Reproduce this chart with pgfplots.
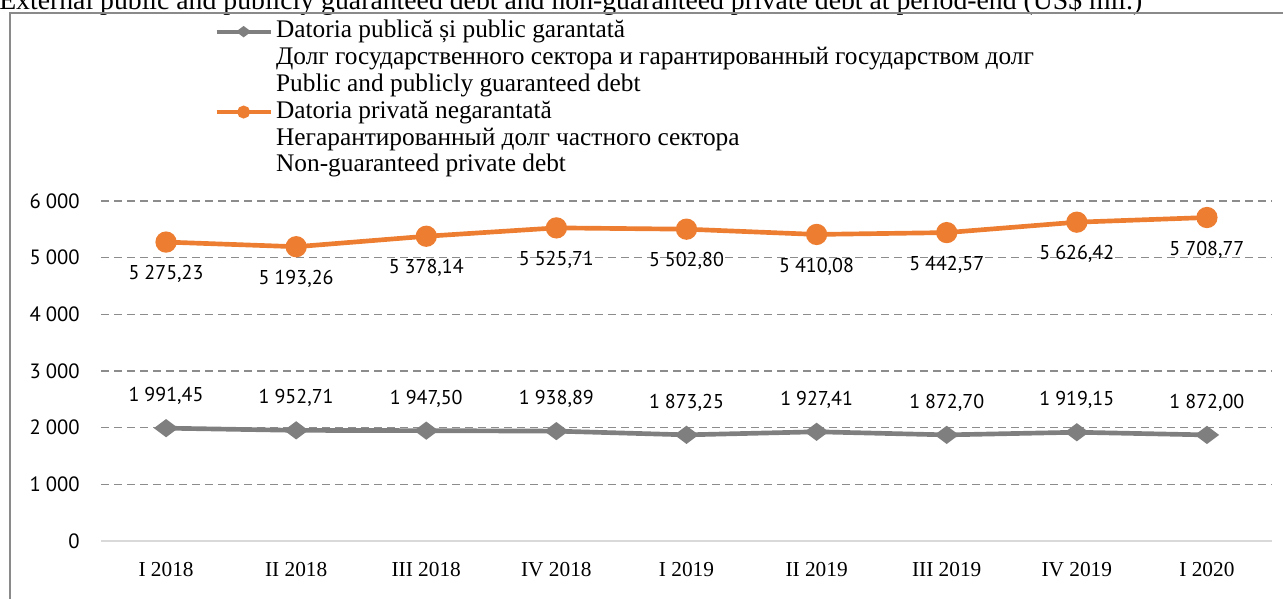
\documentclass[border=0pt]{standalone}
\usepackage{pgfplots}
\pgfplotsset{compat=1.18}
\usepackage{fontspec}
\setmainfont{Liberation Serif}
\newfontfamily\lab{PT Sans}
\definecolor{myorange}{HTML}{ED7D31}
\definecolor{mygray}{HTML}{7F7F7F}
\definecolor{gridgray}{HTML}{8C8C8C}
\definecolor{zerogray}{HTML}{D9D9D9}
\definecolor{framegray}{HTML}{8A8A8A}

\pgfplotstableread{
x y
0 1991.45
1 1952.71
2 1947.50
3 1938.89
4 1873.25
5 1927.41
6 1872.70
7 1919.15
8 1872.00
}\publicdebt
\pgfplotstableread{
x y
0 5275.23
1 5193.26
2 5378.14
3 5525.71
4 5502.80
5 5410.08
6 5442.57
7 5626.42
8 5708.77
}\privatedebt

\begin{document}
\begin{tikzpicture}
\useasboundingbox (0,0) rectangle (962.25pt,-449.25pt);
\clip (0,0) rectangle (962.25pt,-449.25pt);
\node[anchor=base west, inner sep=0pt, font=\fontsize{20.8}{24}\selectfont] at (-0.75pt,-7pt) {External public and publicly guaranteed debt and non-guaranteed private debt at period-end (US\$ mil.)};
\draw[framegray, line width=1.1pt] (7.5pt,-9.75pt) rectangle (980pt,-470pt);
\begin{axis}[
  at={(75.75pt,-405.75pt)}, anchor=south west,
  scale only axis, width=878.25pt, height=255pt,
  xmin=-0.5, xmax=8.5, ymin=0, ymax=6000,
  clip=false,
  xtick={0,...,8},
  xticklabels={I 2018, II 2018, III 2018, IV 2018, I 2019, II 2019, III 2019, IV 2019, I 2020},
  ytick={1000,2000,3000,4000,5000,6000},
  extra y ticks={0},
  extra y tick style={grid=none},
  scaled y ticks=false,
  ymajorgrids,
  grid style={gridgray, line width=1.1pt, dash pattern=on 6pt off 3.75pt},
  axis x line*=bottom, axis y line*=left,
  x axis line style={zerogray, line width=1.1pt, -},
  y axis line style={draw=none},
  major tick length=0pt,
  tick style={draw=none},
  /pgf/number format/.cd, use comma, 1000 sep={\hspace{0.25em}}, assume math mode=true, /pgfplots/.cd,
  yticklabel style={font=\lab\fontsize{15.5}{18}\selectfont, anchor=east, inner sep=0pt, xshift=-15.75pt},
  xticklabel style={font=\fontsize{16}{19}\selectfont, anchor=center, inner sep=0pt, yshift=-21.75pt},
  legend style={draw=none, fill=none, at={(axis description cs:0.0935,1.545)}, anchor=north west,
    font=\fontsize{19}{22}\selectfont, row sep=0.6pt, column sep=0.75pt,
    nodes={inner ysep=0pt, text height=14.5pt, text depth=5pt}},
  legend cell align=left,
  legend image code/.code={\draw[mark repeat=2, mark phase=2, #1, line width=2.8pt, mark size=3.4pt] plot coordinates {(0pt,0pt) (20.25pt,0pt) (40.5pt,0pt)};},
  point meta=y,
  nodes near coords={\pgfmathprintnumber[fixed, fixed zerofill, precision=2]{\pgfplotspointmeta}},
]
\addplot[mygray, line width=3.5pt, mark=diamond*, mark size=6.2pt, mark options={rotate=90, solid},
  every node near coord/.append style={font=\lab\fontsize{15}{18}\selectfont, text=black, anchor=center, yshift=24pt}]
  table[x=x, y=y] {\publicdebt};
\addlegendentry{Datoria publică și public garantată}
\addlegendimage{empty legend}
\addlegendentry{Долг государственного сектора и гарантированный государством долг}
\addlegendimage{empty legend}
\addlegendentry{Public and publicly guaranteed debt}
\addplot[myorange, line width=3.5pt, mark=*, mark size=6.2pt, mark options={solid},
  every node near coord/.append style={font=\lab\fontsize{15}{18}\selectfont, text=black, anchor=center, yshift=-24pt}]
  table[x=x, y=y] {\privatedebt};
\addlegendentry{Datoria privată negarantată}
\addlegendimage{empty legend}
\addlegendentry{Негарантированный долг частного сектора}
\addlegendimage{empty legend}
\addlegendentry{Non-guaranteed private debt}
\end{axis}
\end{tikzpicture}
\end{document}
